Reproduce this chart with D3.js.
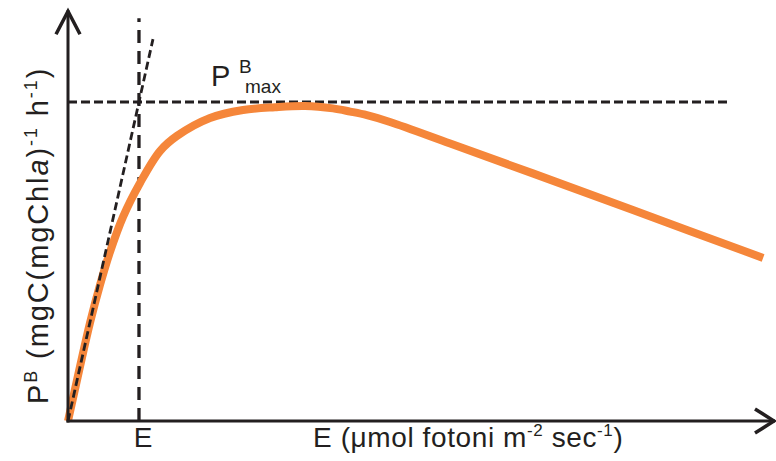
<!DOCTYPE html>
<html>
<head>
<meta charset="utf-8">
<script src="https://cdn.jsdelivr.net/npm/d3@7"></script>
<style>
  html, body { margin: 0; padding: 0; background: #fff; }
  svg { display: block; }
  text { font-family: "Liberation Sans", Arial, sans-serif; fill: #231f20; }
</style>
</head>
<body>
<svg id="chart" width="776" height="461"></svg>
<script>
// ---- data (schematic P-E curve) ----
const irradiance = [0, 15.7, 31.4, 45.7, 60, 78.6, 102.9, 131.4, 155.7, 202.9, 250, 295.7, 338.6, 378.6, 403, 427, 460, 546, 664, 807, 993];
const production = [0, 1.25, 2.46, 3.41, 4.24, 5.12, 5.97, 6.77, 7.15, 7.60, 7.80, 7.87, 7.90, 7.84, 7.76, 7.67, 7.50, 6.96, 6.21, 5.29, 4.09];
const pMax = 8;
const eK = 101.4;
const alphaSlope = pMax / eK;
const alphaEnd = 121.4;
const pMaxLineEnd = 943;
const xAxisMax = 1010;
const yAxisMax = 10.3;
const eKLineTop = 10.1;

const svg = d3.select("#chart");
const x = d3.scaleLinear().domain([0, 1000]).range([68, 768]);
const y = d3.scaleLinear().domain([0, 8]).range([421, 102]);

const ink = "#231f20";
const orange = "#f5863a";

// dashed Pmax line
svg.append("line")
  .attr("x1", x(0)).attr("x2", x(pMaxLineEnd))
  .attr("y1", y(pMax)).attr("y2", y(pMax))
  .attr("stroke", ink).attr("stroke-width", 3)
  .attr("stroke-dasharray", "9,4");

// dashed Ek vertical
svg.append("line")
  .attr("x1", x(eK)).attr("x2", x(eK))
  .attr("y1", y(0)).attr("y2", y(eKLineTop))
  .attr("stroke", ink).attr("stroke-width", 3.3)
  .attr("stroke-dasharray", "13,8");

// orange curve
const line = d3.line()
  .x((d, i) => x(irradiance[i]))
  .y(d => y(d))
  .curve(d3.curveCatmullRom.alpha(0.5));
svg.append("path")
  .attr("d", line(production))
  .attr("fill", "none")
  .attr("stroke", orange)
  .attr("stroke-width", 8)
  .attr("stroke-linecap", "butt");

// dashed initial slope line
svg.append("line")
  .attr("x1", x(0)).attr("y1", y(0))
  .attr("x2", x(alphaEnd)).attr("y2", y(alphaSlope * alphaEnd))
  .attr("stroke", ink).attr("stroke-width", 2.8)
  .attr("stroke-dasharray", "8,4");

// axes
const x0 = x(0), y0 = y(0);
const xTip = x(xAxisMax), yTip = y(yAxisMax);
svg.append("line").attr("x1", x0).attr("x2", x0).attr("y1", y0 + 1.5).attr("y2", yTip)
  .attr("stroke", ink).attr("stroke-width", 3);
svg.append("line").attr("x1", x0 - 1.5).attr("x2", xTip).attr("y1", y0).attr("y2", y0)
  .attr("stroke", ink).attr("stroke-width", 3);
// arrowheads (open chevrons)
svg.append("path")
  .attr("d", `M${x0 - 12},${yTip + 24}L${x0},${yTip + 1}L${x0 + 12},${yTip + 24}`)
  .attr("fill", "none").attr("stroke", ink).attr("stroke-width", 3.5);
svg.append("path")
  .attr("d", `M${xTip - 20},${y0 - 12}L${xTip - 1},${y0}L${xTip - 20},${y0 + 12}`)
  .attr("fill", "none").attr("stroke", ink).attr("stroke-width", 3.5);

// labels
svg.append("text").attr("x", x(eK) + 4).attr("y", 447)
  .attr("text-anchor", "middle").attr("font-size", 28).text("E");

const xl = svg.append("text").attr("x", 313).attr("y", 447).attr("font-size", 28)
  .attr("letter-spacing", 0.6);
xl.append("tspan").text("E (\u03bcmol fotoni m");
xl.append("tspan").attr("dy", -11).attr("font-size", 17).text("-2");
xl.append("tspan").attr("dy", 11).text(" sec");
xl.append("tspan").attr("dy", -11).attr("font-size", 17).text("-1");
xl.append("tspan").attr("dy", 11).text(")");

const pm = svg.append("text").attr("x", 211).attr("y", 86).attr("font-size", 29);
pm.append("tspan").text("P");
pm.append("tspan").attr("x", 239).attr("y", 73).attr("font-size", 19).text("B");
pm.append("tspan").attr("x", 245).attr("y", 93).attr("font-size", 19).text("max");

const yl = svg.append("text").attr("transform", "translate(48,404) rotate(-90)")
  .attr("font-size", 29).attr("letter-spacing", 1.9);
yl.append("tspan").text("P");
yl.append("tspan").attr("dy", -11).attr("font-size", 18).text("B");
yl.append("tspan").attr("dy", 11).text(" (mgC(mgChl");
yl.append("tspan").attr("font-style", "italic").text("a");
yl.append("tspan").text(")");
yl.append("tspan").attr("dy", -11).attr("font-size", 18).text("-1");
yl.append("tspan").attr("dy", 11).text(" h");
yl.append("tspan").attr("dy", -11).attr("font-size", 18).text("-1");
yl.append("tspan").attr("dy", 11).text(")");
</script>
</body>
</html>
